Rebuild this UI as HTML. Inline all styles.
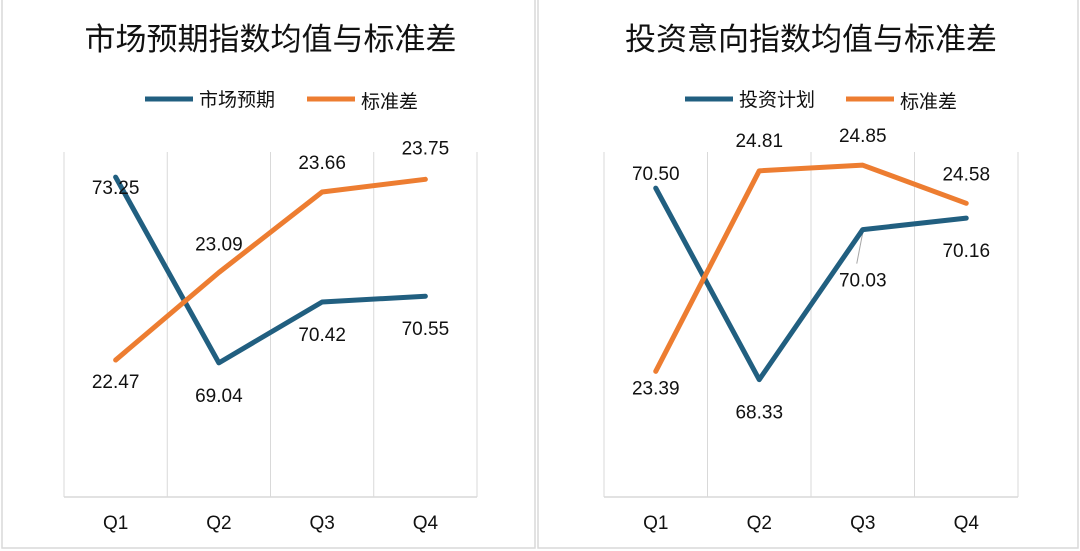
<!DOCTYPE html>
<html><head><meta charset="utf-8"><style>
html,body{margin:0;padding:0;background:#fff;}
svg{display:block;font-family:"Liberation Sans","Noto Sans CJK SC",sans-serif;}
</style></head><body>
<svg id="c" width="1080" height="551" viewBox="0 0 1080 551">
<rect x="2" y="-2" width="533" height="550" fill="#fff" stroke="#d9d9d9" stroke-width="1.5"/>
<rect x="538" y="-2" width="540" height="550" fill="#fff" stroke="#d9d9d9" stroke-width="1.5"/>
</svg>
<script>
const categories = ["Q1","Q2","Q3","Q4"];
const leftMarket = [73.25, 69.04, 70.42, 70.55];
const leftStd = [22.47, 23.09, 23.66, 23.75];
const rightInvest = [70.50, 68.33, 70.03, 70.16];
const rightStd = [23.39, 24.81, 24.85, 24.58];
const leftTitle = "市场预期指数均值与标准差";
const rightTitle = "投资意向指数均值与标准差";

const NS = "http://www.w3.org/2000/svg";
const svg = document.getElementById("c");
function mk(tag, attrs, parent){
  const e = document.createElementNS(NS, tag);
  for (const k in attrs) e.setAttribute(k, attrs[k]);
  (parent||svg).appendChild(e);
  return e;
}
const BLUE = "#215f80", ORANGE = "#ed7d31";

function drawPanel(cfg){
  const g = mk("g", {});
  
  
  const x0 = cfg.x0, x1 = cfg.x1, yTop = 497 - 353, yBot = 497;
  const step = (x1 - x0) / categories.length;
  const xs = i => x0 + step * (i + 0.5);
  const yA = v => yBot - (v - cfg.aMin) / (cfg.aMax - cfg.aMin) * (yBot - yTop);
  const yB = v => yBot - (v - cfg.bMin) / (cfg.bMax - cfg.bMin) * (yBot - yTop);

  const t = mk("text", {x: (x0 + x1) / 2, y: 50, "text-anchor": "middle", "font-size": 31, fill: "#111"}, g);
  t.textContent = cfg.title;
  
  

  // legend
  const lg = mk("g", {}, g);
  
  
  const lx = cfg.legendX;
  const l1 = mk("line", {x1: lx, y1: 99, x2: lx + 48, y2: 99, stroke: BLUE, "stroke-width": 5}, lg);
  
  
  const t1 = mk("text", {x: lx + 54, y: 106, "font-size": 19, fill: "#111"}, lg);
  t1.textContent = cfg.nameA;
  
  
  const lx2 = cfg.legendX2;
  const l2 = mk("line", {x1: lx2, y1: 99, x2: lx2 + 48, y2: 99, stroke: ORANGE, "stroke-width": 5}, lg);
  
  
  const t2 = mk("text", {x: lx2 + 54, y: 108, "font-size": 19, fill: "#111"}, lg);
  t2.textContent = "标准差";
  
  

  // grid
  for (let i = 0; i <= categories.length; i++){
    const gx = x0 + step * i;
    const gl = mk("line", {x1: gx, y1: 152, x2: gx, y2: yBot, stroke: "#d9d9d9", "stroke-width": 1}, g);
    
    
  }
  const ax = mk("line", {x1: x0, y1: yBot, x2: x1, y2: yBot, stroke: "#d9d9d9", "stroke-width": 1.5}, g);
  
  
  categories.forEach((c, i) => {
    const tl = mk("text", {x: xs(i), y: 529, "text-anchor": "middle", "font-size": 19, fill: "#111"}, g);
    tl.textContent = c;
    
    
  });

  if (cfg.leader){
    const i = 2;
    const ld = mk("line", {x1: xs(i), y1: yA(cfg.a[i]) + 3, x2: xs(i) - 6, y2: yA(cfg.a[i]) + 34, stroke: "#a6a6a6", "stroke-width": 1}, g);
    
    
  }

  const pa = mk("polyline", {points: cfg.a.map((v, i) => xs(i) + "," + yA(v)).join(" "), fill: "none", stroke: BLUE, "stroke-width": 5, "stroke-linejoin": "round", "stroke-linecap": "round"}, g);
  
  
  const pb = mk("polyline", {points: cfg.b.map((v, i) => xs(i) + "," + yB(v)).join(" "), fill: "none", stroke: ORANGE, "stroke-width": 5, "stroke-linejoin": "round", "stroke-linecap": "round"}, g);
  
  

  cfg.a.forEach((v, i) => {
    const tx = mk("text", {x: xs(i), y: yA(v) + cfg.offA[i] + 7, "text-anchor": "middle", "font-size": 19, fill: "#111"}, g);
    tx.textContent = v.toFixed(2);
    
    
  });
  cfg.b.forEach((v, i) => {
    const tx = mk("text", {x: xs(i), y: yB(v) + cfg.offB[i] + 7, "text-anchor": "middle", "font-size": 19, fill: "#111"}, g);
    tx.textContent = v.toFixed(2);
    
    
  });
}

drawPanel({id: "market", title: leftTitle, nameA: "市场预期", x0: 64, x1: 477,
  a: leftMarket, b: leftStd, aMin: 66, aMax: 74, bMin: 21.5, bMax: 24,
  legendX: 145, legendX2: 307,
  offA: [10, 32, 32, 32], offB: [21, -29, -30, -32]});
drawPanel({id: "invest", title: rightTitle, nameA: "投资计划", x0: 604, x1: 1018,
  a: rightInvest, b: rightStd, aMin: 67, aMax: 71, bMin: 22.5, bMax: 25,
  legendX: 685, legendX2: 846,
  offA: [-15, 32, 50, 32], offB: [16, -31, -30, -30], leader: true});
</script>
</body></html>
